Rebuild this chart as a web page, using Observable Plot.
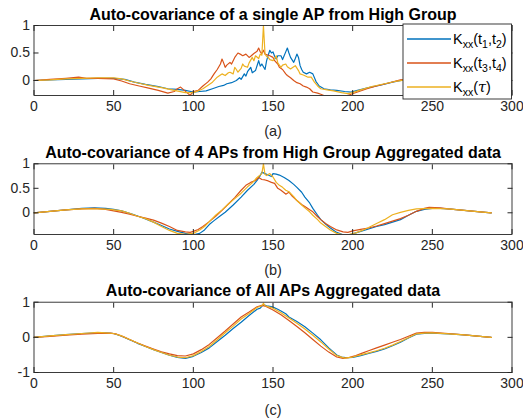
<!DOCTYPE html>
<html>
<head>
<meta charset="utf-8">
<script src="https://cdn.jsdelivr.net/npm/d3@7"></script>
<script src="https://cdn.jsdelivr.net/npm/@observablehq/plot@0.6"></script>
<style>
  body { margin: 0; background: #fff; }
  #fig svg { display: block; }
</style>
</head>
<body>
<div id="fig"></div>
<script>
// Lag axis ticks and the three estimators shown in every panel
const X_TICKS = [0, 50, 100, 150, 200, 250, 300];
const SERIES = ["Kxx(t1,t2)", "Kxx(t3,t4)", "Kxx(τ)"];
const COLORS = ["#0072BD", "#D95319", "#EDB120"];

// (a) single AP, High Group — [lag, covariance]
const singleT12 = [[0,0],[10,0.01],[20,0.02],[30,0.03],[40,0.04],[50,0.04],[57,0.02],[63,-0.03],[70,-0.07],[78,-0.11],[84,-0.15],[90,-0.16],[95,-0.18],[100,-0.21],[104,-0.2],[108,-0.19],[112,-0.15],[116,-0.11],[119,-0.09],[121,-0.06],[124,-0.04],[127,0.0],[129,0.05],[130,0.02],[132,0.12],[133,0.08],[134,0.16],[136,0.24],[137,0.14],[139,0.18],[141,0.36],[142,0.26],[143,0.30],[145,0.2],[146,0.36],[147,0.46],[148,0.55],[149,0.5],[150,0.52],[151,0.44],[152,0.39],[153,0.45],[155,0.45],[156,0.38],[158,0.52],[159,0.59],[160,0.5],[161,0.42],[163,0.33],[164,0.4],[165,0.48],[166,0.42],[167,0.27],[168,0.2],[169,0.15],[171,0.12],[173,0.15],[175,0.12],[177,-0.02],[179,-0.1],[182,-0.15],[186,-0.17],[190,-0.18],[195,-0.2],[199,-0.21],[203,-0.18],[210,-0.13],[218,-0.08],[225,-0.03],[232,0.01],[240,0.04],[250,0.05],[260,0.04],[270,0.02],[280,0.01],[287,0]];
const singleT34 = [[0,0],[10,0.02],[20,0.04],[28,0.06],[33,0.04],[40,0.04],[50,0.03],[55,-0.01],[60,-0.06],[66,-0.1],[72,-0.14],[78,-0.18],[84,-0.23],[88,-0.2],[90,-0.15],[92,-0.12],[94,-0.17],[96,-0.22],[98,-0.27],[100,-0.2],[103,-0.18],[106,-0.1],[109,-0.03],[111,0.03],[113,0.12],[115,0.2],[117,0.3],[118,0.39],[119,0.32],[120,0.24],[121,0.28],[123,0.33],[124,0.3],[126,0.42],[128,0.5],[130,0.47],[131,0.45],[133,0.48],[135,0.42],[136,0.44],[138,0.49],[140,0.53],[141,0.59],[142,0.52],[143,0.49],[144,0.55],[145,0.48],[147,0.46],[148,0.45],[150,0.42],[151,0.36],[153,0.3],[154,0.24],[156,0.2],[158,0.12],[159,0.09],[161,0.05],[163,0.0],[165,-0.04],[167,-0.06],[169,-0.1],[171,-0.12],[173,-0.15],[175,-0.21],[178,-0.23],[180,-0.25],[184,-0.3],[190,-0.32],[195,-0.29],[199,-0.25],[204,-0.2],[209,-0.15],[215,-0.1],[222,-0.05],[230,0.01],[240,0.04],[250,0.06],[260,0.05],[270,0.03],[280,0.01],[287,0]];
const singleTau = [[0,0],[10,0.01],[20,0.03],[30,0.04],[40,0.05],[50,0.05],[55,0.03],[60,-0.01],[66,-0.05],[72,-0.09],[80,-0.13],[88,-0.18],[95,-0.22],[100,-0.22],[103,-0.19],[106,-0.15],[109,-0.09],[112,-0.03],[115,0.06],[117,0.1],[118,0.12],[120,0.09],[122,0.14],[123,0.15],[125,0.12],[126,0.24],[127,0.2],[128,0.15],[130,0.22],[131,0.3],[132,0.26],[134,0.24],[135,0.32],[137,0.42],[138,0.36],[139,0.45],[141,0.4],[142,0.48],[143,0.46],[144,1.0],[145,0.48],[146,0.44],[147,0.42],[148,0.38],[150,0.36],[151,0.4],[152,0.45],[153,0.32],[155,0.24],[156,0.28],[158,0.3],[159,0.25],[161,0.21],[163,0.25],[164,0.27],[166,0.18],[167,0.12],[169,0.1],[172,0.06],[174,0.06],[176,-0.03],[178,-0.1],[180,-0.15],[184,-0.17],[188,-0.19],[193,-0.22],[197,-0.24],[200,-0.22],[205,-0.17],[212,-0.11],[220,-0.06],[228,-0.01],[235,0.02],[245,0.05],[255,0.05],[265,0.04],[275,0.02],[287,0]];

// (b) 4 APs from High Group, aggregated
const groupT12 = [[0,0],[10,0.03],[20,0.06],[30,0.09],[38,0.10],[45,0.09],[50,0.07],[55,0.04],[62,-0.03],[68,-0.1],[75,-0.19],[80,-0.26],[85,-0.33],[90,-0.38],[95,-0.42],[100,-0.45],[104,-0.42],[107,-0.35],[110,-0.24],[113,-0.16],[117,-0.06],[120,0.01],[125,0.16],[130,0.32],[134,0.46],[138,0.58],[140,0.66],[142,0.76],[143,0.83],[145,0.8],[147,0.77],[149,0.74],[150,0.80],[152,0.79],[154,0.77],[157,0.72],[160,0.66],[163,0.58],[165,0.52],[168,0.42],[170,0.32],[173,0.2],[175,0.09],[178,-0.05],[180,-0.14],[183,-0.23],[186,-0.31],[190,-0.40],[194,-0.45],[198,-0.45],[202,-0.41],[206,-0.37],[210,-0.33],[215,-0.28],[220,-0.24],[225,-0.19],[230,-0.14],[235,-0.05],[240,0.03],[245,0.07],[250,0.09],[255,0.09],[260,0.08],[270,0.05],[280,0.02],[287,0]];
const groupT34 = [[0,0],[10,0.03],[20,0.06],[30,0.08],[38,0.09],[45,0.07],[50,0.04],[55,0.01],[60,-0.03],[65,-0.07],[70,-0.11],[75,-0.15],[80,-0.21],[85,-0.28],[90,-0.36],[95,-0.39],[98,-0.40],[100,-0.38],[103,-0.34],[106,-0.28],[110,-0.18],[114,-0.07],[118,0.05],[122,0.18],[126,0.31],[130,0.46],[133,0.56],[136,0.62],[139,0.66],[141,0.72],[143,0.68],[145,0.67],[147,0.65],[149,0.62],[151,0.6],[153,0.5],[155,0.46],[157,0.41],[158,0.38],[160,0.42],[162,0.34],[165,0.25],[168,0.17],[170,0.13],[173,0.06],[175,0.02],[178,-0.08],[180,-0.14],[183,-0.22],[186,-0.28],[190,-0.35],[194,-0.39],[197,-0.4],[200,-0.37],[205,-0.34],[210,-0.31],[215,-0.27],[220,-0.22],[225,-0.17],[230,-0.12],[235,-0.05],[240,0.03],[245,0.09],[248,0.11],[255,0.1],[260,0.08],[270,0.05],[280,0.02],[287,0]];
const groupTau = [[0,0],[10,0.03],[20,0.06],[30,0.08],[40,0.08],[48,0.07],[55,0.04],[60,-0.01],[65,-0.07],[70,-0.12],[75,-0.19],[80,-0.28],[85,-0.36],[90,-0.42],[95,-0.44],[100,-0.42],[104,-0.35],[107,-0.28],[110,-0.18],[114,-0.05],[118,0.06],[122,0.18],[126,0.29],[130,0.40],[134,0.53],[137,0.61],[140,0.72],[142,0.77],[143,0.80],[144,1.0],[145,0.78],[146,0.76],[148,0.8],[150,0.73],[152,0.62],[154,0.56],[156,0.52],[158,0.46],[160,0.43],[163,0.33],[165,0.25],[168,0.16],[170,0.1],[173,0.02],[175,-0.05],[178,-0.14],[180,-0.21],[183,-0.28],[186,-0.35],[190,-0.42],[194,-0.45],[198,-0.44],[202,-0.41],[206,-0.36],[210,-0.3],[215,-0.22],[220,-0.14],[225,-0.04],[230,0.01],[235,0.05],[240,0.08],[250,0.09],[260,0.08],[270,0.05],[280,0.02],[287,0]];

// (c) all APs, aggregated
const allT12 = [[0,0],[10,0.04],[20,0.08],[30,0.11],[40,0.13],[45,0.13],[50,0.11],[55,0.03],[60,-0.07],[65,-0.17],[70,-0.26],[75,-0.35],[80,-0.43],[85,-0.51],[90,-0.57],[95,-0.60],[100,-0.54],[105,-0.43],[110,-0.3],[115,-0.12],[120,0.06],[125,0.25],[130,0.43],[135,0.62],[140,0.80],[142,0.83],[144,0.93],[146,0.9],[148,0.88],[150,0.86],[153,0.8],[155,0.75],[158,0.67],[160,0.58],[165,0.45],[170,0.3],[175,0.12],[180,-0.07],[185,-0.3],[190,-0.5],[193,-0.56],[197,-0.58],[200,-0.57],[205,-0.52],[210,-0.46],[215,-0.4],[220,-0.33],[225,-0.24],[230,-0.14],[235,-0.02],[240,0.09],[245,0.11],[250,0.12],[260,0.1],[270,0.07],[280,0.03],[287,0]];
const allT34 = [[0,0],[10,0.03],[20,0.06],[30,0.09],[40,0.11],[48,0.12],[52,0.09],[56,0.02],[60,-0.06],[65,-0.16],[70,-0.25],[75,-0.33],[80,-0.41],[85,-0.47],[90,-0.52],[95,-0.53],[100,-0.47],[105,-0.35],[110,-0.2],[115,-0.01],[120,0.18],[125,0.38],[130,0.58],[135,0.72],[140,0.87],[143,0.91],[145,0.89],[150,0.78],[155,0.64],[160,0.48],[165,0.31],[170,0.13],[175,-0.06],[180,-0.25],[185,-0.42],[190,-0.56],[194,-0.60],[198,-0.57],[202,-0.52],[206,-0.45],[210,-0.38],[215,-0.3],[220,-0.22],[225,-0.14],[230,-0.06],[235,0.03],[240,0.12],[245,0.14],[250,0.14],[260,0.11],[270,0.07],[280,0.03],[287,0]];
const allTau = [[0,0],[10,0.04],[20,0.08],[30,0.11],[40,0.14],[45,0.13],[50,0.11],[55,0.04],[60,-0.06],[65,-0.16],[70,-0.26],[75,-0.35],[80,-0.43],[85,-0.51],[90,-0.56],[95,-0.58],[100,-0.52],[105,-0.40],[110,-0.26],[115,-0.07],[120,0.13],[125,0.32],[130,0.52],[135,0.68],[140,0.85],[143,0.9],[144,0.97],[145,0.9],[150,0.83],[155,0.7],[160,0.55],[165,0.4],[170,0.24],[175,0.06],[180,-0.13],[185,-0.33],[190,-0.52],[195,-0.59],[200,-0.56],[205,-0.5],[210,-0.44],[215,-0.38],[220,-0.31],[225,-0.22],[230,-0.12],[235,-0.01],[240,0.1],[245,0.12],[250,0.13],[260,0.1],[270,0.07],[280,0.03],[287,0]];

const FONT = "'Liberation Sans', Arial, Helvetica, sans-serif";
const INK = "#262626";

const panels = [
  {title: "Auto-covariance of a single AP from High Group", caption: "(a)",
   curves: [singleT12, singleT34, singleTau], yDomain: [-0.273, 1], yTicks: [0, 0.5, 1],
   marginTop: 25, marginBottom: 45, captionDy: 36, legend: true},
  {title: "Auto-covariance of 4 APs from High Group Aggregated data", caption: "(b)",
   curves: [groupT12, groupT34, groupTau], yDomain: [-0.443, 1], yTicks: [0, 0.5, 1],
   marginTop: 23.3, marginBottom: 46, captionDy: 36},
  {title: "Auto-covariance of All APs Aggregated data", caption: "(c)",
   curves: [allT12, allT34, allTau], yDomain: [-1, 1], yTicks: [-1, 0, 1],
   marginTop: 21.7, marginBottom: 48, captionDy: 38}
];

// Legend entries: [text, subscript?, italic?]
const LEGEND_LABELS = [
  [["K"], ["xx", true], ["(t"], ["1", true], [",t"], ["2", true], [")"]],
  [["K"], ["xx", true], ["(t"], ["3", true], [",t"], ["4", true], [")"]],
  [["K"], ["xx", true], ["("], ["τ", false, true], [")"]]
];

function drawLegend(svg) {
  const x1 = svg.scale("x").range[1];
  const yTop = svg.scale("y").range[1];
  const w = 108.5, h = 75;
  const left = x1 - w, top = yTop - 1;
  const g = d3.select(svg).append("g").attr("font-family", FONT).attr("text-anchor", "start");
  g.append("rect").attr("x", left).attr("y", top).attr("width", w).attr("height", h)
    .attr("fill", "white").attr("stroke", INK).attr("stroke-width", 0.9);
  LEGEND_LABELS.forEach((parts, i) => {
    const cy = top + 15 + i * 24;
    g.append("line").attr("x1", left + 4).attr("x2", left + 48).attr("y1", cy).attr("y2", cy)
      .attr("stroke", COLORS[i]).attr("stroke-width", 1.3);
    const t = g.append("text").attr("x", left + 50).attr("y", cy + 5)
      .attr("font-size", 14.5).attr("fill", "#000").attr("text-anchor", "start");
    let shift = 0;
    for (const [s, sub, italic] of parts) {
      const target = sub ? 3.5 : 0;
      const span = t.append("tspan").attr("dy", target - shift).text(s);
      if (sub) span.attr("font-size", 10.5);
      if (italic) span.attr("font-style", "italic").attr("font-family", "'DejaVu Serif', serif");
      shift = target;
    }
  });
}

const fig = document.getElementById("fig");
for (const p of panels) {
  const rows = p.curves.flatMap((c, i) => c.map(([x, y]) => ({x, y, series: SERIES[i]})));
  const svg = Plot.plot({
    width: 523,
    height: 140,
    marginLeft: 33.5,
    marginRight: 11.5,
    marginTop: p.marginTop,
    marginBottom: p.marginBottom,
    style: {fontFamily: FONT, fontSize: "14px", color: INK, background: "white", overflow: "visible"},
    x: {domain: [0, 300]},
    y: {domain: p.yDomain},
    color: {domain: SERIES, range: COLORS},
    marks: [
      Plot.line(rows, {x: "x", y: "y", z: "series", stroke: "series", strokeWidth: 1.2, clip: true}),
      Plot.frame({stroke: INK, strokeWidth: 0.9}),
      Plot.axisX({ticks: X_TICKS, anchor: "bottom", tickSize: 5, dy: -5, text: null, label: null}),
      Plot.axisX({ticks: X_TICKS, anchor: "top", tickSize: 5, dy: 5, text: null, label: null}),
      Plot.axisX({ticks: X_TICKS, anchor: "bottom", tickSize: 0, tickPadding: 5.5, label: null,
        fontSize: 14, tickFormat: d => String(d)}),
      Plot.axisY({ticks: p.yTicks, anchor: "left", tickSize: 5, dx: 5, text: null, label: null}),
      Plot.axisY({ticks: p.yTicks, anchor: "right", tickSize: 5, dx: -5, text: null, label: null}),
      Plot.axisY({ticks: p.yTicks, anchor: "left", tickSize: 0, tickPadding: 4, label: null,
        fontSize: 14, tickFormat: d => String(d)}),
      Plot.text([p.title], {text: d => d, frameAnchor: "top", dy: -11, lineAnchor: "middle",
        fontSize: 16, fontWeight: "bold", fill: "#000"}),
      Plot.text([p.caption], {text: d => d, frameAnchor: "bottom", dy: p.captionDy, lineAnchor: "middle",
        fontSize: 14.5, fill: INK})
    ]
  });
  if (p.legend) drawLegend(svg);
  fig.appendChild(svg);
}
</script>
</body>
</html>
